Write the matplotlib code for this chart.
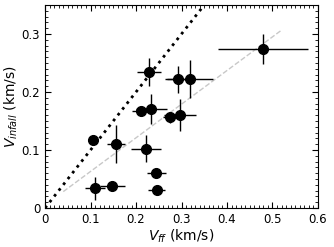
import numpy as np
import matplotlib.pyplot as plt
from matplotlib.ticker import MultipleLocator, FormatStrFormatter

# free-fall vs infall velocities (km/s)
v_ff = [0.105, 0.110, 0.148, 0.156, 0.221, 0.244, 0.245, 0.229, 0.210, 0.233,
        0.275, 0.297, 0.293, 0.319, 0.480]
v_in = [0.117, 0.034, 0.038, 0.110, 0.102, 0.060, 0.031, 0.235, 0.168, 0.170,
        0.156, 0.160, 0.222, 0.222, 0.274]
xerr = [0.011, 0.022, 0.027, 0.020, 0.033, 0.021, 0.018, 0.026, 0.018, 0.034,
        0.015, 0.035, 0.029, 0.051, 0.099]
yerr = [0.005, 0.020, 0.004, 0.033, 0.023, 0.003, 0.003, 0.024, 0.005, 0.026,
        0.010, 0.027, 0.023, 0.033, 0.026]

# fit line
fit_x = np.array([0.04, 0.52])
fit_slope, fit_icpt = 0.58, 0.005

fig = plt.figure(figsize=(3.34, 2.47), dpi=100)
ax = fig.add_axes([0.135, 0.158, 0.817, 0.822])

ax.plot([0, 0.4], [0, 0.4], 'k:', lw=2)
ax.plot(fit_x, fit_slope*fit_x + fit_icpt, '--', color='#c8c8c8', lw=1)
ax.errorbar(v_ff, v_in, xerr=xerr, yerr=yerr, fmt='o', color='k',
            ms=7, elinewidth=1, capsize=0)

ax.set_xlim(0, 0.6)
ax.set_ylim(0, 0.35)
ax.xaxis.set_major_locator(MultipleLocator(0.1))
ax.yaxis.set_major_locator(MultipleLocator(0.1))
ax.xaxis.set_minor_locator(MultipleLocator(0.01))
ax.yaxis.set_minor_locator(MultipleLocator(0.01))
ax.xaxis.set_major_formatter(FormatStrFormatter('%g'))
ax.yaxis.set_major_formatter(FormatStrFormatter('%g'))
ax.tick_params(which='both', direction='in', top=True, right=True, labelsize=8.5)
ax.tick_params(which='major', length=4)
ax.tick_params(which='minor', length=2)

ax.set_xlabel(r'$V_{ff}$ (km/s)', fontsize=10, labelpad=1)
ax.set_ylabel(r'$V_{infall}$ (km/s)', fontsize=10, labelpad=1)

fig.savefig('out.png', dpi=100)
